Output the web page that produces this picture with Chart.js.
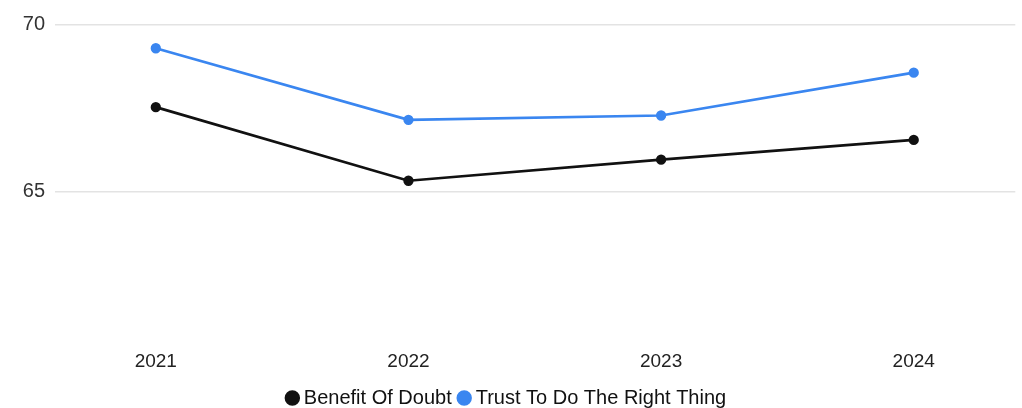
<!DOCTYPE html>
<html>
<head>
<meta charset="utf-8">
<script src="https://cdn.jsdelivr.net/npm/chart.js@4/dist/chart.umd.min.js"></script>
<style>
  html, body { margin: 0; padding: 0; background: #fff; }
  #wrap { width: 1022px; height: 408px; }
</style>
</head>
<body>
<div id="wrap"><canvas id="c"></canvas></div>
<script>
// Years and series
const years = [2021, 2022, 2023, 2024];
const benefitOfDoubt = [67.53, 65.33, 65.96, 66.55];
const trustRightThing = [69.29, 67.15, 67.28, 68.56];
const yTicks = [65, 70];

const FONT = 'Liberation Sans, Arial, sans-serif';
const toPoints = vals => years.map((yr, i) => ({ x: yr, y: vals[i] }));

new Chart(document.getElementById('c'), {
  type: 'line',
  data: {
    datasets: [
      {
        label: 'Benefit Of Doubt',
        data: toPoints(benefitOfDoubt),
        borderColor: '#111111',
        backgroundColor: '#111111',
        borderWidth: 2.7,
        pointRadius: 3.8,
        pointHoverRadius: 4,
        tension: 0
      },
      {
        label: 'Trust To Do The Right Thing',
        data: toPoints(trustRightThing),
        borderColor: '#3a86f0',
        backgroundColor: '#3a86f0',
        borderWidth: 2.7,
        pointRadius: 3.8,
        pointHoverRadius: 4,
        tension: 0
      }
    ]
  },
  options: {
    responsive: true,
    maintainAspectRatio: false,
    animation: false,
    layout: { padding: { top: 24.5, right: 5, left: 0, bottom: -10 } },
    plugins: {
      legend: {
        position: 'bottom',
        labels: {
          usePointStyle: true,
          pointStyle: 'circle',
          boxWidth: 3,
          boxHeight: 9,
          padding: 11,
          color: '#111',
          font: { family: FONT, size: 20, lineHeight: 1 }
        }
      },
      tooltip: { enabled: false }
    },
    scales: {
      x: {
        type: 'linear',
        min: 2020.601,
        max: 2024.402,
        afterBuildTicks: axis => { axis.ticks = years.map(v => ({ value: v })); },
        afterFit: axis => { axis.height = 36; },
        grid: { display: false },
        border: { display: false },
        ticks: {
          color: '#222',
          padding: 1,
          font: { family: FONT, size: 19 },
          callback: v => String(v)
        }
      },
      y: {
        min: 60.54,
        max: 70,
        afterBuildTicks: axis => { axis.ticks = yTicks.map(v => ({ value: v })); },
        afterFit: axis => { axis.width = 55; },
        grid: { color: '#e3e3e3', lineWidth: 1.5, drawTicks: false },
        border: { display: false },
        ticks: {
          color: '#333',
          padding: 10,
          font: { family: FONT, size: 20 }
        }
      }
    }
  }
});
</script>
</body>
</html>
